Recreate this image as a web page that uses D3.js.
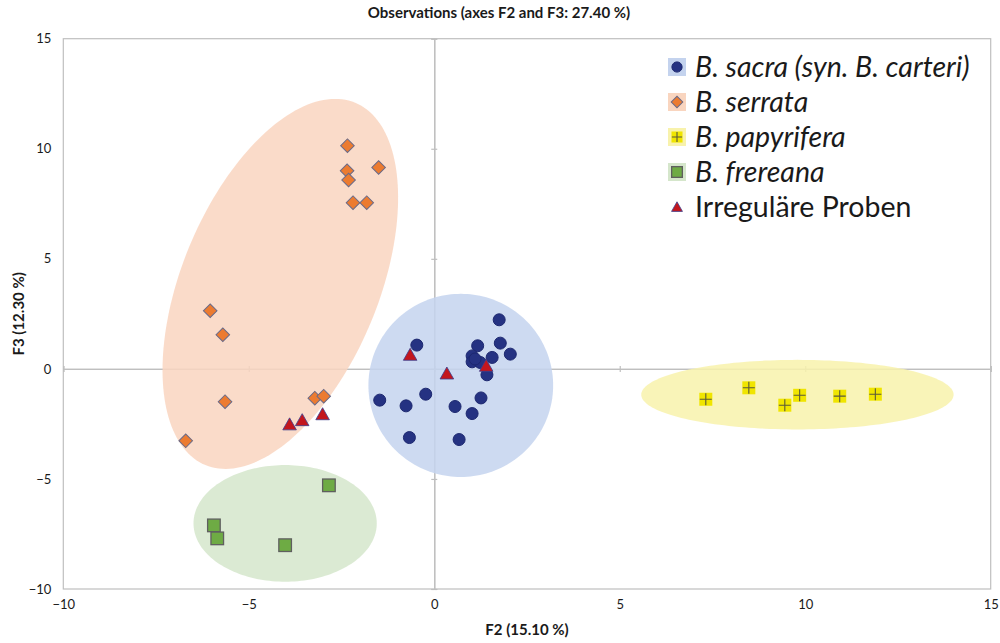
<!DOCTYPE html>
<html>
<head>
<meta charset="utf-8">
<script src="https://cdn.jsdelivr.net/npm/d3@7"></script>
<style>
  body { margin: 0; background: #fff; }
  text { font-family: Lato, "Open Sans", sans-serif; fill: #1a1a1a; }
  .tick text { font-size: 13px; }
  text.axisTitle { font-size: 15px; font-weight: bold; }
  text.legendText { font-size: 28.5px; }
</style>
</head>
<body>
<div id="chart"></div>
<script>
// values: [F2, F3]
var sacra = [[1.75, 2.23], [-0.47, 1.08], [1.17, 1.05], [1.78, 1.17], [2.05, 0.67],
  [1.56, 0.52], [1.02, 0.59], [1.02, 0.32], [1.24, 0.29], [1.10, 0.45], [1.42, -0.27],
  [-1.47, -1.42], [-0.76, -1.68], [-0.23, -1.15], [0.56, -1.71], [1.26, -1.32],
  [1.02, -2.03], [-0.67, -3.12], [0.67, -3.21]];
var serrata = [[-2.34, 10.14], [-1.50, 9.15], [-2.35, 9.0], [-2.31, 8.58], [-2.19, 7.55],
  [-1.82, 7.55], [-6.04, 2.64], [-5.70, 1.55], [-5.64, -1.49], [-6.70, -3.27],
  [-3.22, -1.33], [-2.98, -1.24]];
var papyrifera = [[7.32, -1.38], [8.48, -0.86], [9.45, -1.65], [9.85, -1.20],
  [10.93, -1.24], [11.89, -1.15]];
var frereana = [[-2.84, -5.29], [-5.94, -7.11], [-5.85, -7.70], [-4.02, -8.01]];
var irregular = [[-3.90, -2.52], [-3.56, -2.33], [-3.01, -2.06], [-0.65, 0.64],
  [0.34, -0.21], [1.40, 0.14]];

// group ellipses (sacra, serrata, papyrifera, frereana):
// centre and two conjugate half-axes, in axis units
var ellipseCentres = [[0.715, -0.75], [-4.15, 3.86], [9.79, -1.17], [-4.02, -7.02]];
var ellipseAxisU = [[2.49, 0], [2.02, 8.23], [4.21, 0], [2.47, 0]];
var ellipseAxisV = [[0, 4.16], [2.45, -1.71], [0, 1.58], [0, 2.65]];

var xTicks = [-10, -5, 0, 5, 10, 15];
var yTicks = [-10, -5, 0, 5, 10, 15];
var legendLabels = ["B. sacra (syn. B. carteri)", "B. serrata", "B. papyrifera",
  "B. frereana", "Irreguläre Proben"];

var svgWidth = 1000;
var svgHeight = 643;
var plot = { left: 63.3, right: 990.7, top: 38.7, bottom: 589 };

var ellipseColors = ["#c4d3ee", "#f9d5bf", "#f8f2ac", "#d5e6cb"];

var svg = d3.select("#chart")
  .append("svg")
  .attr("width", svgWidth)
  .attr("height", svgHeight);

var x = d3.scaleLinear().domain([-10, 15]).range([plot.left, plot.right]);
var y = d3.scaleLinear().domain([-10, 15]).range([plot.bottom, plot.top]);

// frame
svg.append("rect")
  .attr("x", x(-10)).attr("y", y(15))
  .attr("width", x(15) - x(-10)).attr("height", y(-10) - y(15))
  .attr("fill", "none").attr("stroke", "#bfbfbf").attr("stroke-width", 1.2);

// zero lines with small cross ticks
svg.append("g").attr("transform", `translate(0, ${y(0)})`)
  .call(d3.axisBottom(x).tickValues(xTicks).tickSize(3).tickFormat(""));
svg.append("g").attr("transform", `translate(0, ${y(0)})`)
  .call(d3.axisTop(x).tickValues(xTicks).tickSize(3).tickFormat(""));
svg.append("g").attr("transform", `translate(${x(0)}, 0)`)
  .call(d3.axisLeft(y).tickValues(yTicks).tickSize(3).tickFormat(""));
svg.append("g").attr("transform", `translate(${x(0)}, 0)`)
  .call(d3.axisRight(y).tickValues(yTicks).tickSize(3).tickFormat(""));
svg.selectAll(".domain, .tick line").attr("stroke", "#bfbfbf").attr("stroke-width", 1.2);

// ellipses
var ellipseLine = d3.line().x(d => x(d[0])).y(d => y(d[1])).curve(d3.curveLinearClosed);
var angles = d3.range(0, 2 * Math.PI, Math.PI / 90);
svg.selectAll(".groupEllipse")
  .data(ellipseCentres)
  .enter()
  .append("path")
  .attr("class", "groupEllipse")
  .attr("fill", (d, i) => ellipseColors[i])
  .attr("fill-opacity", 0.85)
  .attr("d", (c, i) => ellipseLine(angles.map(t => [
    c[0] + ellipseAxisU[i][0] * Math.cos(t) + ellipseAxisV[i][0] * Math.sin(t),
    c[1] + ellipseAxisU[i][1] * Math.cos(t) + ellipseAxisV[i][1] * Math.sin(t)
  ])));

// outer tick labels
var leftAxis = svg.append("g").attr("transform", `translate(${x(-10)}, 0)`)
  .call(d3.axisLeft(y).tickValues(yTicks).tickSize(0).tickPadding(12));
var bottomAxis = svg.append("g").attr("transform", `translate(0, ${y(-10)})`)
  .call(d3.axisBottom(x).tickValues(xTicks).tickSize(0).tickPadding(11));
leftAxis.select(".domain").remove();
bottomAxis.select(".domain").remove();
svg.selectAll(".tick text").attr("fill", "#1a1a1a");

// markers
function circleMark(g, s) {
  g.append("circle").attr("r", 6 * s).attr("fill", "#253282").attr("stroke", "#1d2870");
}
function diamondMark(g, s) {
  g.append("rect").attr("x", -4.8 * s).attr("y", -4.8 * s)
    .attr("width", 9.6 * s).attr("height", 9.6 * s)
    .attr("transform", "rotate(45)")
    .attr("fill", "#ec7b30").attr("stroke", "#6a6a88").attr("stroke-width", 1);
}
function crossMark(g, s) {
  g.append("rect").attr("x", -6.5 * s).attr("y", -6.5 * s)
    .attr("width", 13 * s).attr("height", 13 * s)
    .attr("fill", "#f0e500");
  g.append("path")
    .attr("d", `M${-6 * s},0H${6 * s}M0,${-6 * s}V${6 * s}`)
    .attr("stroke", "#5a5a3a").attr("stroke-width", 1.1);
}
function squareMark(g, s) {
  g.append("rect").attr("x", -6.3 * s).attr("y", -6.3 * s)
    .attr("width", 12.6 * s).attr("height", 12.6 * s)
    .attr("fill", "#6eab44").attr("stroke", "#5f5f5f").attr("stroke-width", 1.3);
}
function triangleMark(g, s) {
  g.append("path")
    .attr("d", `M0,${-6.5 * s}L${6.8 * s},${5.5 * s}L${-6.8 * s},${5.5 * s}Z`)
    .attr("fill", "#c3161d").attr("stroke", "#3a3f8f").attr("stroke-width", 0.8);
}

var seriesData = [sacra, serrata, papyrifera, frereana, irregular];
var seriesMarks = [circleMark, diamondMark, crossMark, squareMark, triangleMark];

seriesData.forEach(function (data, i) {
  svg.append("g").selectAll("g")
    .data(data)
    .enter()
    .append("g")
    .attr("transform", d => `translate(${x(d[0])}, ${y(d[1])})`)
    .each(function () { seriesMarks[i](d3.select(this), 1); });
});

// legend
var legend = svg.append("g").attr("transform", "translate(677, 67)");
legendLabels.forEach(function (label, i) {
  var row = legend.append("g").attr("transform", `translate(0, ${i * 35})`);
  if (i < 4) {
    row.append("rect").attr("x", -9).attr("y", -9).attr("width", 18).attr("height", 18)
      .attr("fill", ellipseColors[i]);
  }
  seriesMarks[i](row.append("g"), i === 4 ? 0.8 : 0.85);
  row.append("text")
    .attr("class", "legendText")
    .attr("x", 18)
    .attr("y", 10)
    .style("font-style", i < 4 ? "italic" : "normal")
    .text(label);
});

// titles
svg.append("text")
  .attr("class", "axisTitle")
  .attr("x", 499).attr("y", 18)
  .attr("text-anchor", "middle")
  .text("Observations (axes F2 and F3: 27.40 %)");

svg.append("text")
  .attr("class", "axisTitle")
  .attr("x", 527).attr("y", 635)
  .attr("text-anchor", "middle")
  .text("F2 (15.10 %)");

svg.append("text")
  .attr("class", "axisTitle")
  .attr("transform", `translate(24, ${y(2.5)}) rotate(-90)`)
  .attr("text-anchor", "middle")
  .text("F3 (12.30 %)");
</script>
</body>
</html>
